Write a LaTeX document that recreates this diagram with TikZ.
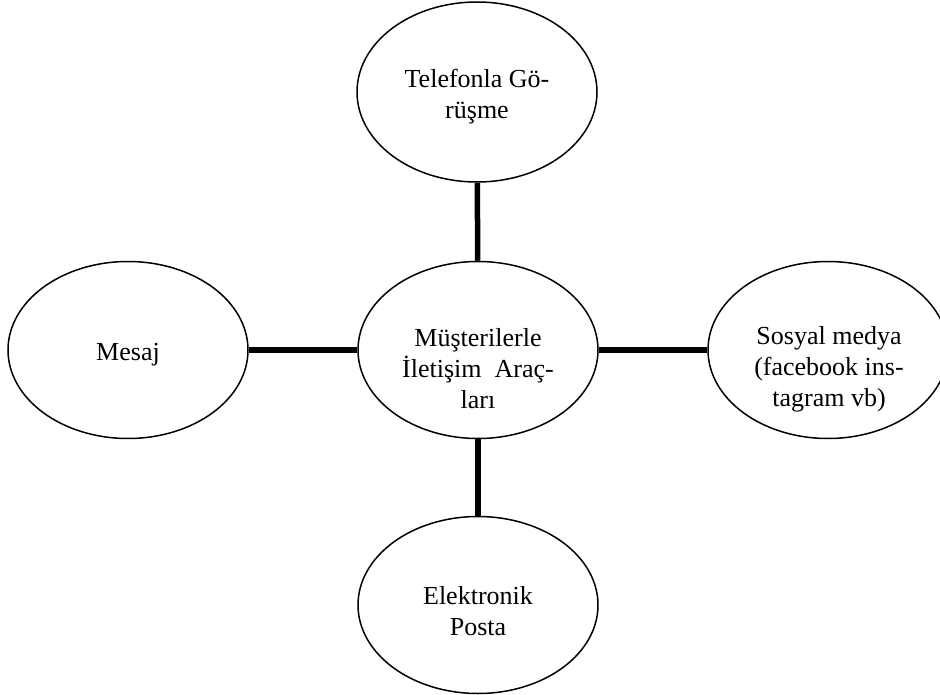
\documentclass[tikz,border=0pt]{standalone}
\usepackage{fontspec}
\setmainfont{Liberation Serif}
\usetikzlibrary{shapes.geometric}
\begin{document}
\begin{tikzpicture}[x=1pt,y=-1pt,
  oval/.style={ellipse,draw,line width=1.5pt,minimum width=240pt,minimum height=177pt,inner sep=0pt},
  lbl/.style={align=center,inner sep=0pt,font=\fontsize{26}{31}\selectfont},
  link/.style={line width=5.5pt}]
\useasboundingbox (0,0) rectangle (940,695);
\node[oval] (c) at (478,350) {};
\node[oval,minimum height=180pt] (t) at (477,92) {};
\node[oval] (l) at (128,350) {};
\node[oval] (r) at (828,350) {};
\node[oval] (b) at (478,605) {};
\node[lbl] (ct) at (478,369) {Müşterilerle\\İletişim~ Araç-\\ları};
\node[lbl] (tt) at (477,97) {Telefonla Gö-\\rüşme};
\node[lbl] (lt) at (128,355) {Mesaj};
\node[lbl] (rt) at (829,369) {Sosyal medya\\(facebook ins-\\tagram vb)};
\node[lbl] (bt) at (478,611) {Elektronik\\Posta};
\draw[link] (t) -- (c);
\draw[link] (c) -- (b);
\draw[link] (l) -- (c);
\draw[link] (c) -- (r);
\end{tikzpicture}
\end{document}
